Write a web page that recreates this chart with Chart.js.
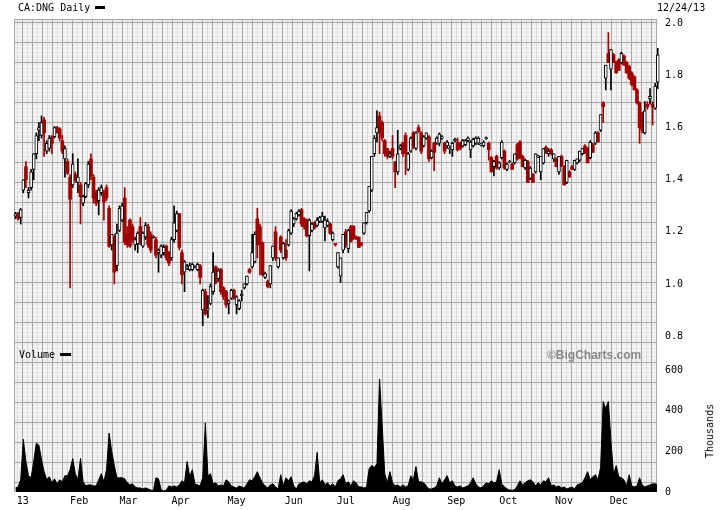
<!DOCTYPE html>
<html lang="en">
<head>
<meta charset="UTF-8">
<title>CA:DNG Daily</title>
<script src="https://cdn.jsdelivr.net/npm/chart.js"></script>
<style>
    body { margin: 0; background: #fff; }
    .wrap { position: relative; width: 720px; height: 510px; font-family: "DejaVu Sans Mono", monospace; font-size: 10px; color: #000; }
    .wrap canvas { position: absolute; left: 0; top: 0; }
    .lbl { position: absolute; white-space: nowrap; line-height: 10px; }
    .dash { position: absolute; background: #000; }
    .brand { position: absolute; white-space: nowrap; font-family: "Liberation Sans", Arial, sans-serif; font-weight: bold; font-size: 12px; color: #8a8a8a; line-height: 12px; }
    .units { position: absolute; white-space: nowrap; line-height: 10px; transform: rotate(-90deg); transform-origin: center center; }
</style>
</head>
<body>
<div class="wrap">
    <canvas id="chart" width="720" height="510"></canvas>
    <div class="lbl" style="left:18px; top:3px;">CA:DNG Daily</div>
    <div class="dash" style="left:95px; top:6px; width:10px; height:3px;"></div>
    <div class="lbl" style="left:657px; top:3px;">12/24/13</div>
    <div class="lbl" style="left:19px; top:350px;">Volume</div>
    <div class="dash" style="left:60px; top:353px; width:11px; height:3px;"></div>
    <div class="brand" style="left:547px; top:349px;">&copy;BigCharts.com</div>
    <div class="units" style="left:683px; top:426px;">Thousands</div>
</div>

<script>
    // daily prices, 2013 (one entry per trading day)
    const OPEN = [
        1.26,1.27,1.255,1.36,1.45,1.35,1.37,1.44,1.50,1.59,1.57,1.63,1.51,1.52,1.565,1.565,1.60,1.595,1.55,1.48,1.47,
        1.41,1.38,1.42,1.39,1.38,1.31,1.335,1.38,1.48,1.41,1.35,1.32,1.35,1.35,1.37,1.29,1.15,1.18,1.07,
        1.205,1.245,1.33,1.19,1.245,1.22,1.15,1.155,1.22,1.145,1.18,1.22,1.19,1.18,1.17,1.12,1.11,1.12,1.145,1.12,
        1.10,1.17,1.205,1.27,1.12,1.045,1.06,1.055,1.055,1.065,1.055,1.07,0.90,0.97,0.90,0.925,0.97,1.065,1.02,1.055,0.985,0.97,
        0.925,0.945,0.975,0.92,0.905,0.955,0.985,1.00,1.055,1.065,1.085,1.25,1.22,1.16,1.025,1.01,1.00,1.10,1.20,1.065,1.18,1.10,1.13,
        1.15,1.195,1.23,1.25,1.265,1.285,1.25,1.245,1.185,1.205,1.235,1.225,1.24,1.24,1.215,1.225,1.23,1.17,1.155,1.065,
        1.03,1.13,1.20,1.135,1.22,1.22,1.18,1.18,1.155,1.195,1.235,1.28,1.36,1.50,1.58,1.645,1.62,1.55,1.52,1.49,1.52,
        1.47,1.43,1.52,1.54,1.57,1.44,1.51,1.58,1.52,1.60,1.58,1.53,1.56,1.565,1.485,1.54,1.54,1.54,1.56,1.54,
        1.53,1.52,1.515,1.55,1.545,1.54,1.53,1.535,1.55,1.515,1.53,1.54,1.54,1.535,1.53,1.56,1.54,1.485,1.45,1.49,
        1.445,1.485,1.51,1.44,1.47,1.46,1.465,1.535,1.545,1.49,1.445,1.47,1.405,1.42,1.43,1.49,1.43,1.465,1.525,1.50,1.515,1.48,1.48,
        1.43,1.49,1.45,1.39,1.43,1.45,1.44,1.465,1.475,1.50,1.53,1.52,1.485,1.535,1.54,1.58,1.59,1.695,1.79,1.885,1.825,
        1.88,1.85,1.86,1.85,1.875,1.85,1.835,1.81,1.795,1.745,1.695,1.655,1.58,1.69,1.71,1.69,1.675,1.775
    ];
    const HIGH = [
        1.275,1.275,1.29,1.40,1.47,1.37,1.44,1.50,1.58,1.62,1.645,1.64,1.55,1.57,1.57,1.605,1.605,1.60,1.57,1.53,1.48,
        1.42,1.50,1.43,1.48,1.39,1.34,1.39,1.47,1.50,1.42,1.36,1.37,1.38,1.36,1.38,1.30,1.19,1.19,1.23,
        1.30,1.31,1.37,1.22,1.25,1.23,1.18,1.20,1.255,1.20,1.235,1.23,1.20,1.185,1.18,1.135,1.15,1.15,1.15,1.125,
        1.18,1.30,1.28,1.27,1.13,1.09,1.075,1.08,1.08,1.07,1.08,1.075,0.98,0.98,0.955,1.00,1.12,1.07,1.06,1.06,0.99,0.975,
        0.94,0.98,0.98,0.955,0.94,0.975,1.00,1.03,1.06,1.19,1.20,1.29,1.23,1.16,1.045,1.015,1.07,1.145,1.22,1.10,1.185,1.16,1.17,
        1.21,1.285,1.255,1.275,1.285,1.29,1.255,1.25,1.25,1.235,1.24,1.255,1.26,1.275,1.26,1.25,1.235,1.20,1.155,1.12,
        1.10,1.19,1.21,1.21,1.225,1.225,1.185,1.18,1.16,1.235,1.275,1.375,1.49,1.57,1.665,1.66,1.625,1.555,1.52,1.51,1.57,
        1.47,1.59,1.535,1.545,1.58,1.505,1.565,1.585,1.585,1.61,1.585,1.57,1.58,1.57,1.515,1.545,1.565,1.58,1.57,1.545,
        1.55,1.53,1.545,1.56,1.56,1.545,1.555,1.555,1.565,1.55,1.56,1.565,1.565,1.54,1.55,1.565,1.545,1.49,1.475,1.495,
        1.47,1.55,1.515,1.465,1.475,1.465,1.50,1.54,1.55,1.495,1.48,1.475,1.45,1.425,1.50,1.495,1.49,1.52,1.53,1.52,1.52,1.50,1.485,
        1.49,1.495,1.455,1.475,1.435,1.455,1.475,1.48,1.51,1.52,1.535,1.525,1.55,1.54,1.585,1.585,1.65,1.70,1.84,1.965,1.90,
        1.885,1.855,1.865,1.89,1.88,1.855,1.84,1.815,1.80,1.75,1.70,1.66,1.70,1.70,1.75,1.70,1.77,1.905
    ];
    const LOW = [
        1.25,1.245,1.23,1.35,1.37,1.33,1.36,1.40,1.48,1.55,1.56,1.49,1.50,1.51,1.50,1.56,1.58,1.55,1.50,1.41,1.42,
        0.985,1.37,1.39,1.35,1.23,1.30,1.33,1.37,1.40,1.31,1.30,1.265,1.34,1.245,1.32,1.14,1.13,1.00,1.05,
        1.20,1.24,1.15,1.14,1.14,1.16,1.13,1.12,1.15,1.14,1.17,1.14,1.12,1.175,1.10,1.045,1.10,1.11,1.09,1.07,
        1.09,1.16,1.20,1.13,1.00,0.97,1.055,1.05,1.05,1.06,1.05,1.00,0.84,0.88,0.87,0.92,0.96,1.00,1.01,0.96,0.94,0.91,
        0.885,0.94,0.94,0.885,0.90,0.935,0.98,0.995,1.04,1.06,1.08,1.10,1.035,1.03,1.02,0.985,0.985,1.09,1.09,1.06,1.12,1.095,1.09,
        1.145,1.19,1.22,1.245,1.26,1.22,1.21,1.18,1.05,1.20,1.21,1.22,1.235,1.235,1.165,1.22,1.19,1.165,1.145,1.06,
        1.005,1.12,1.14,1.12,1.16,1.17,1.17,1.14,1.145,1.19,1.23,1.275,1.355,1.49,1.545,1.50,1.55,1.49,1.48,1.485,1.48,
        1.37,1.42,1.515,1.49,1.42,1.435,1.505,1.52,1.515,1.58,1.50,1.525,1.555,1.47,1.48,1.435,1.535,1.53,1.555,1.50,
        1.52,1.50,1.49,1.545,1.51,1.515,1.525,1.53,1.545,1.485,1.525,1.535,1.535,1.53,1.525,1.555,1.475,1.43,1.415,1.44,
        1.44,1.48,1.44,1.435,1.465,1.44,1.46,1.475,1.48,1.45,1.44,1.39,1.40,1.39,1.425,1.485,1.40,1.46,1.50,1.49,1.495,1.47,1.45,
        1.42,1.45,1.38,1.385,1.41,1.44,1.435,1.46,1.47,1.495,1.50,1.465,1.48,1.505,1.535,1.545,1.585,1.62,1.745,1.85,1.745,
        1.85,1.81,1.82,1.845,1.84,1.81,1.785,1.76,1.745,1.69,1.54,1.58,1.575,1.67,1.69,1.61,1.67,1.75
    ];
    const CLOSE = [
        1.27,1.25,1.285,1.40,1.40,1.36,1.43,1.50,1.57,1.60,1.62,1.58,1.54,1.56,1.54,1.60,1.58,1.56,1.51,1.52,1.425,
        1.325,1.46,1.40,1.41,1.335,1.335,1.385,1.46,1.415,1.33,1.31,1.36,1.37,1.315,1.33,1.145,1.19,1.045,1.195,
        1.29,1.30,1.16,1.15,1.145,1.17,1.17,1.195,1.16,1.195,1.225,1.15,1.13,1.18,1.11,1.13,1.145,1.14,1.10,1.08,
        1.17,1.235,1.27,1.14,1.035,1.085,1.065,1.07,1.075,1.065,1.075,1.025,0.975,0.885,0.905,0.99,1.045,1.005,1.05,0.97,0.95,0.92,
        0.935,0.975,0.945,0.95,0.935,0.96,1.00,1.03,1.045,1.12,1.19,1.15,1.15,1.035,1.04,0.99,1.07,1.145,1.10,1.10,1.13,1.155,1.10,
        1.205,1.28,1.25,1.27,1.28,1.23,1.22,1.185,1.245,1.23,1.215,1.245,1.255,1.26,1.245,1.24,1.195,1.195,1.15,1.12,
        1.10,1.19,1.15,1.205,1.165,1.175,1.175,1.14,1.15,1.235,1.275,1.375,1.49,1.56,1.60,1.58,1.56,1.50,1.49,1.50,1.49,
        1.43,1.50,1.53,1.50,1.50,1.50,1.56,1.53,1.58,1.585,1.51,1.565,1.58,1.48,1.51,1.505,1.56,1.575,1.565,1.51,
        1.545,1.52,1.54,1.555,1.515,1.52,1.55,1.55,1.56,1.545,1.555,1.56,1.56,1.535,1.545,1.56,1.515,1.43,1.47,1.445,
        1.465,1.545,1.445,1.46,1.47,1.44,1.50,1.48,1.485,1.45,1.475,1.39,1.445,1.39,1.50,1.49,1.49,1.52,1.505,1.51,1.50,1.50,1.45,
        1.49,1.455,1.38,1.475,1.41,1.44,1.475,1.48,1.51,1.52,1.50,1.465,1.545,1.505,1.58,1.545,1.65,1.68,1.84,1.85,1.90,
        1.85,1.81,1.82,1.885,1.84,1.81,1.79,1.765,1.745,1.695,1.60,1.59,1.665,1.68,1.72,1.68,1.76,1.88
    ];
    // daily volume, thousands of shares
    const VOLUME = [
        20,25,60,260,150,80,70,150,240,230,
        160,100,60,75,45,65,40,60,50,80,
        80,110,165,90,60,165,50,30,35,35,
        30,30,60,90,50,110,290,200,130,70,
        70,70,65,45,35,40,25,20,20,15,
        20,15,10,5,70,65,10,5,10,30,
        25,30,25,35,55,45,150,75,110,40,
        35,30,70,340,80,90,40,45,30,35,
        30,60,50,30,25,20,30,25,20,40,
        60,55,75,100,70,45,30,20,35,40,
        25,15,85,30,70,55,75,30,15,40,
        45,50,40,55,50,80,195,45,60,35,
        45,30,40,25,55,65,85,40,50,30,
        55,45,25,25,20,25,115,130,120,140,
        555,330,90,45,100,45,30,35,25,35,
        25,30,80,60,125,50,50,45,30,15,
        15,20,30,70,40,60,80,45,55,30,
        25,30,20,25,30,45,70,40,25,20,
        30,45,40,55,45,50,110,40,25,15,
        10,8,12,30,55,35,45,55,60,50,
        30,45,35,55,50,70,30,35,25,30,
        20,25,15,20,25,15,35,40,45,70,
        100,60,75,85,60,120,445,410,445,250,
        85,130,75,70,60,30,85,30,25,30,
        70,35,25,30,35,40,40,35
    ];
    // where each month label starts, in trading-day units
    const MONTH_POS = [0.5, 21, 40, 60, 81.5, 103.5, 123.5, 145, 166, 186, 207.5, 228.5];
    const MONTH_LABELS = ['13', 'Feb', 'Mar', 'Apr', 'May', 'Jun', 'Jul', 'Aug', 'Sep', 'Oct', 'Nov', 'Dec'];
    const PRICE_TICKS = [0.8, 0.9, 1.0, 1.1, 1.2, 1.3, 1.4, 1.5, 1.6, 1.7, 1.8, 1.9, 2.0];
    const VOLUME_TICKS = [0, 100, 200, 300, 400, 500, 600];

    const UP_COLOR = '#000000';
    const DOWN_COLOR = '#a00000';
    const TICK_FONT = { family: 'DejaVu Sans Mono', size: 10 };

    const days = CLOSE.map((c, i) => i);
    const isUp = i => CLOSE[i] >= OPEN[i];

    // candle body as a floating bar; flat days get a hairline body
    function bodyRange(i) {
        const lo = Math.min(OPEN[i], CLOSE[i]);
        const hi = Math.max(OPEN[i], CLOSE[i]);
        if (hi - lo < 0.004) {
            const m = (hi + lo) / 2;
            return [m - 0.002, m + 0.002];
        }
        return [lo, hi];
    }

    // grey panel with the fine BigCharts style rules behind the data
    const panelGrid = {
        id: 'panelGrid',
        beforeDatasetsDraw(chart) {
            const { ctx, chartArea: a } = chart;
            const px = v => Math.round(v) + 0.5;
            ctx.save();
            ctx.fillStyle = '#eeeeee';
            ctx.fillRect(a.left, a.top, a.right - a.left, a.bottom - a.top);
            ctx.lineWidth = 1;

            ctx.strokeStyle = '#fafafa';
            ctx.beginPath();
            for (let y = a.top + 7; y < a.bottom; y += 4) {
                ctx.moveTo(a.left, px(y));
                ctx.lineTo(a.right, px(y));
            }
            ctx.stroke();

            ctx.strokeStyle = '#dcdcdc';
            ctx.beginPath();
            for (let x = a.left + 3.3; x < a.right; x += 9.98) {
                ctx.moveTo(px(x), a.top);
                ctx.lineTo(px(x), a.bottom);
            }
            ctx.stroke();

            ctx.strokeStyle = '#a8a8a8';
            ctx.beginPath();
            for (let y = a.top + 3; y < a.bottom; y += 20) {
                ctx.moveTo(a.left, px(y));
                ctx.lineTo(a.right, px(y));
            }
            for (let x = a.left + 8.3; x < a.right; x += 9.98) {
                ctx.moveTo(px(x), a.top);
                ctx.lineTo(px(x), a.bottom);
            }
            ctx.moveTo(a.left, px(a.top));
            ctx.lineTo(a.right, px(a.top));
            ctx.moveTo(px(a.left), a.top);
            ctx.lineTo(px(a.left), a.bottom);
            ctx.moveTo(px(a.right - 1), a.top);
            ctx.lineTo(px(a.right - 1), a.bottom);
            ctx.stroke();
            ctx.restore();
        }
    };

    const ctx = document.getElementById('chart').getContext('2d');
    const chart = new Chart(ctx, {
        data: {
            datasets: [
                {
                    type: 'bar',
                    label: 'range',
                    data: days.map(i => ({ x: i, y: [LOW[i], HIGH[i]] })),
                    backgroundColor: days.map(i => isUp(i) ? UP_COLOR : DOWN_COLOR),
                    barThickness: 1,
                    grouped: false,
                    clip: 4,
                    order: 2
                },
                {
                    type: 'bar',
                    label: 'up',
                    data: days.filter(isUp).map(i => ({ x: i, y: bodyRange(i) })),
                    backgroundColor: '#ffffff',
                    borderColor: UP_COLOR,
                    borderWidth: 1,
                    borderSkipped: false,
                    barThickness: 3,
                    grouped: false,
                    clip: 4,
                    order: 1
                },
                {
                    type: 'bar',
                    label: 'down',
                    data: days.filter(i => !isUp(i)).map(i => ({ x: i, y: bodyRange(i) })),
                    backgroundColor: DOWN_COLOR,
                    borderWidth: 0,
                    barThickness: 3,
                    grouped: false,
                    clip: 4,
                    order: 1
                },
                {
                    type: 'line',
                    label: 'Volume',
                    yAxisID: 'yv',
                    data: days.map(i => ({ x: i, y: VOLUME[i] })),
                    borderColor: '#000000',
                    backgroundColor: '#000000',
                    borderWidth: 1,
                    pointRadius: 0,
                    tension: 0,
                    fill: 'origin',
                    order: 3
                }
            ]
        },
        options: {
            responsive: false,
            animation: false,
            layout: { padding: { left: 14, top: 19, right: 0, bottom: 0 } },
            plugins: {
                legend: { display: false },
                tooltip: { enabled: false }
            },
            scales: {
                x: {
                    type: 'linear',
                    offset: false,
                    min: -0.58,
                    max: 246.7,
                    grid: { display: false, drawTicks: false },
                    border: { display: false },
                    afterBuildTicks: s => { s.ticks = MONTH_POS.map(v => ({ value: v })); },
                    afterFit: s => { s.height = 18; },
                    ticks: {
                        align: 'start',
                        padding: 3,
                        maxRotation: 0,
                        autoSkip: false,
                        color: '#000',
                        font: TICK_FONT,
                        callback: (v, i) => MONTH_LABELS[i]
                    }
                },
                y: {
                    type: 'linear',
                    position: 'right',
                    stack: 'panes',
                    stackWeight: 336,
                    min: 0.727,
                    max: 2.0173,
                    grid: { display: false, drawTicks: false },
                    border: { display: false },
                    afterBuildTicks: s => { s.ticks = PRICE_TICKS.map(v => ({ value: v })); },
                    afterFit: s => { s.width = 63; },
                    ticks: {
                        padding: 8,
                        color: '#000',
                        font: TICK_FONT,
                        callback: v => v.toFixed(1)
                    }
                },
                yv: {
                    type: 'linear',
                    position: 'right',
                    stack: 'panes',
                    stackWeight: 137,
                    min: 0,
                    max: 674,
                    grid: { display: false, drawTicks: false },
                    border: { display: false },
                    afterBuildTicks: s => { s.ticks = VOLUME_TICKS.map(v => ({ value: v })); },
                    afterFit: s => { s.width = 63; },
                    ticks: {
                        padding: 8,
                        color: '#000',
                        font: TICK_FONT,
                        callback: v => String(v)
                    }
                }
            }
        },
        plugins: [panelGrid]
    });
</script>
</body>
</html>
